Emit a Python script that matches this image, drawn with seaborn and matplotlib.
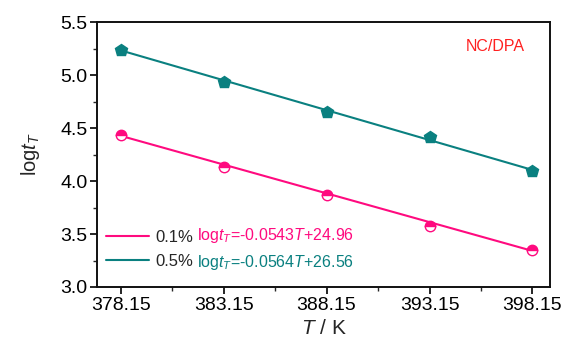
import numpy as np
import pandas as pd
import matplotlib
matplotlib.use("Agg")
import matplotlib.pyplot as plt
from matplotlib.lines import Line2D
import seaborn as sns

# Measured points
temperature = [378.15, 383.15, 388.15, 393.15, 398.15]
logt_01 = [4.43, 4.13, 3.865, 3.575, 3.35]
logt_05 = [5.24, 4.935, 4.65, 4.415, 4.095]

# Linear fits logt_T = slope*T + intercept
series_names = ["0.1%", "0.5%"]
slopes = [-0.0543, -0.0564]
intercepts = [24.96, 26.56]
colors = ["#ff0a7f", "#0a8080"]

x_ticks = [378.15, 383.15, 388.15, 393.15, 398.15]
y_ticks = [3.0, 3.5, 4.0, 4.5, 5.0, 5.5]

sns.set_theme(style="ticks")
plt.rcParams["font.family"] = ["Liberation Sans", "DejaVu Sans"]
plt.rcParams["mathtext.fontset"] = "custom"
plt.rcParams["mathtext.rm"] = "Liberation Sans"
plt.rcParams["mathtext.it"] = "Liberation Sans:italic"

fig = plt.figure(figsize=(5.69, 3.44), dpi=100)
ax = fig.add_axes([0.1705, 0.1657, 0.7961, 0.7703])

# Fitted lines
fit_rows = []
for name, s, b in zip(series_names, slopes, intercepts):
    for t in (temperature[0], temperature[-1]):
        fit_rows.append({"T": t, "logt": s * t + b, "series": name})
fit_df = pd.DataFrame(fit_rows)
sns.lineplot(data=fit_df, x="T", y="logt", hue="series",
             palette=dict(zip(series_names, colors)), linewidth=1.5,
             legend=False, ax=ax, zorder=2)

# Data markers
ax.plot(temperature, logt_01, linestyle="none", marker="o", markersize=7.5,
        fillstyle="top", markerfacecolor=colors[0], markerfacecoloralt="white",
        markeredgecolor=colors[0], markeredgewidth=1.0, zorder=3)
ax.plot(temperature, logt_05, linestyle="none", marker="p", markersize=9,
        color=colors[1], markeredgecolor=colors[1], zorder=3)

ax.set_xlim(377.0, 399.0)
ax.set_ylim(3.0, 5.5)
ax.set_xticks(x_ticks)
ax.set_xticklabels([f"{v:.2f}" for v in x_ticks])
ax.set_xticks([380.65, 385.65, 390.65, 395.65], minor=True)
ax.set_yticks(y_ticks)
ax.set_yticklabels([f"{v:.1f}" for v in y_ticks])
ax.set_yticks(np.arange(3.25, 5.5, 0.5), minor=True)

ax.tick_params(axis="both", which="major", direction="out", length=5, width=1.2,
               labelsize=14, colors="black", pad=2)
ax.tick_params(axis="both", which="minor", direction="out", length=3, width=1.0)
for sp in ax.spines.values():
    sp.set_visible(True)
    sp.set_linewidth(1.4)
    sp.set_color("#111111")

ax.set_xlabel(r"$\mathit{T}$ / K", fontsize=15, labelpad=4)
ax.set_ylabel(r"log$\mathit{t}_{\mathit{T}}$", fontsize=14.5, labelpad=13)

ax.text(0.879, 0.906, "NC/DPA", transform=ax.transAxes, color="#ff2020",
        fontsize=11.5, ha="center", va="center")

# Legend with fit equations
handles = [Line2D([0], [0], color=c, lw=1.5) for c in colors]
leg = ax.legend(handles, ["0.1%", "0.5%"], loc="center left",
                bbox_to_anchor=(0.02, 0.143), frameon=False, fontsize=12,
                handlelength=2.6, handletextpad=0.35, labelspacing=0.55,
                borderpad=0, borderaxespad=0)
for name, s, b, c, y in zip(series_names, slopes, intercepts, colors, [0.193, 0.093]):
    eq = rf"log$\mathit{{t}}_{{\mathit{{T}}}}$={s:.4f}$\mathit{{T}}$+{b:.2f}"
    ax.text(0.221, y, eq, transform=ax.transAxes, color=c, fontsize=11.5,
            ha="left", va="center")

fig.savefig("out.png", dpi=100)
